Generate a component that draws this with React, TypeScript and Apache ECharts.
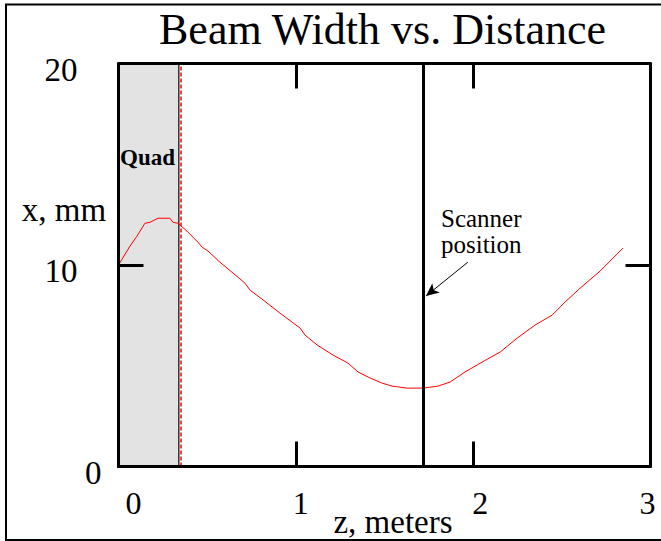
import React, { useEffect, useRef } from 'react';
import * as echarts from 'echarts';

// Beam width (x, mm) as a function of distance (z, meters)
const zMeters = [0, 0.065, 0.104, 0.149, 0.178, 0.223, 0.29, 0.307, 0.336, 0.386, 0.448, 0.471, 0.505, 0.572, 0.612, 0.713, 0.742, 0.809, 0.911, 1.024, 1.052, 1.12, 1.21, 1.294, 1.351, 1.419, 1.486, 1.543, 1.627, 1.717, 1.802, 1.87, 1.954, 2.05, 2.152, 2.248, 2.349, 2.445, 2.518, 2.603, 2.716, 2.845];
const widthMm = [10.0, 10.94, 11.43, 12.07, 12.12, 12.32, 12.32, 12.12, 12.07, 11.68, 11.13, 10.89, 10.69, 10.14, 9.85, 9.1, 8.75, 8.31, 7.61, 6.87, 6.52, 6.03, 5.53, 5.13, 4.69, 4.39, 4.14, 3.99, 3.89, 3.89, 3.99, 4.19, 4.69, 5.18, 5.68, 6.37, 7.02, 7.51, 8.16, 8.85, 9.7, 10.84];

const xTickLabels = ['0', '1', '2', '3'];
const yTickLabels = ['0', '10', '20'];

const quadStart = 0;
const quadEnd = 0.34;
const quadMarker = 0.351;
const scannerZ = 1.72;
const arrowFrom = [1.97, 10.14];
const arrowTo = [1.734, 8.46];

const FONT = "'Liberation Serif', 'Times New Roman', serif";

export default function App() {
  const ref = useRef<HTMLDivElement>(null);

  useEffect(() => {
    if (!ref.current) return;
    const chart = echarts.init(ref.current, null, { renderer: 'svg' });

    const xRich: Record<string, any> = {
      l0: { padding: [0, 0, 0, 30] },
      l1: { padding: [0, 0, 0, 10] },
      l2: { padding: [0, 0, 0, 14] },
      l3: { padding: [0, 6, 0, 0] },
    };
    const yRich: Record<string, any> = {
      l0: { padding: [12, 0, 0, 0] },
      l10: { padding: [12, 24, 0, 0] },
      l20: { padding: [12, 24, 0, 0] },
    };
    Object.values(xRich).forEach((s) => Object.assign(s, { fontFamily: FONT, fontSize: 32, color: '#000' }));
    Object.values(yRich).forEach((s) => Object.assign(s, { fontFamily: FONT, fontSize: 33, color: '#000' }));

    const data = zMeters.map((z, i) => [z, widthMm[i]]);

    const axisCommon = {
      z: 10,
      axisLine: { show: true, onZero: false, lineStyle: { color: '#000', width: 3 } },
      axisTick: { show: true, inside: true, length: 25, lineStyle: { color: '#000', width: 3 } },
      splitLine: { show: false },
    };

    chart.setOption({
      animation: false,
      backgroundColor: '#fff',
      title: {
        text: 'Beam Width vs. Distance',
        left: 154,
        top: 2,
        textStyle: { fontFamily: FONT, fontSize: 44, fontWeight: 'normal', color: '#000' },
      },
      grid: { left: 118.5, right: 10.5, top: 63.5, bottom: 74.5, containLabel: false },
      xAxis: [
        {
          type: 'value',
          position: 'bottom',
          min: 0,
          max: 3,
          interval: 1,
          ...axisCommon,
          axisLabel: {
            show: true,
            margin: 20,
            formatter: (v: number) => {
              const s = xTickLabels[Math.round(v)] ?? String(v);
              return `{l${s}|${s}}`;
            },
            rich: xRich,
          },
        },
        {
          type: 'value',
          position: 'top',
          min: 0,
          max: 3,
          interval: 1,
          ...axisCommon,
          axisLabel: { show: false },
        },
      ],
      yAxis: [
        {
          type: 'value',
          position: 'left',
          min: 0,
          max: 20,
          interval: 10,
          ...axisCommon,
          axisLabel: {
            show: true,
            margin: 17,
            align: 'right',
            formatter: (v: number) => {
              const s = yTickLabels[Math.round(v / 10)] ?? String(v);
              return `{l${s}|${s}}`;
            },
            rich: yRich,
          },
        },
        {
          type: 'value',
          position: 'right',
          min: 0,
          max: 20,
          interval: 10,
          ...axisCommon,
          axisLabel: { show: false },
        },
      ],
      graphic: [
        {
          type: 'rect',
          shape: { x: 6, y: 4.5, width: 700, height: 535.5 },
          style: { fill: 'none', stroke: '#000', lineWidth: 2 },
          silent: true,
          z: 100,
        },
        {
          type: 'text',
          x: 64,
          y: 210,
          style: { text: 'x, mm', fontFamily: FONT, fontSize: 33, fill: '#000', textAlign: 'center', textVerticalAlign: 'middle' },
        },
        {
          type: 'text',
          x: 393,
          y: 522,
          style: { text: 'z, meters', fontFamily: FONT, fontSize: 33, fill: '#000', textAlign: 'center', textVerticalAlign: 'middle' },
        },
        {
          type: 'text',
          x: 120,
          y: 157,
          z: 50,
          style: { text: 'Quad', fontFamily: FONT, fontSize: 23, fontWeight: 'bold', fill: '#000', textAlign: 'left', textVerticalAlign: 'middle' },
        },
        {
          type: 'text',
          x: 441,
          y: 218,
          z: 50,
          style: { text: 'Scanner', fontFamily: FONT, fontSize: 25, fill: '#000', textAlign: 'left', textVerticalAlign: 'middle' },
        },
        {
          type: 'text',
          x: 441,
          y: 244,
          z: 50,
          style: { text: 'position', fontFamily: FONT, fontSize: 25, fill: '#000', textAlign: 'left', textVerticalAlign: 'middle' },
        },
      ],
      series: [
        {
          type: 'line',
          data,
          showSymbol: false,
          symbol: 'none',
          silent: true,
          lineStyle: { color: '#ff0000', width: 1 },
          markArea: {
            silent: true,
            itemStyle: { color: '#e3e3e3', borderColor: '#333', borderWidth: 1.5 },
            data: [[{ xAxis: quadStart }, { xAxis: quadEnd }]],
          },
          markLine: {
            silent: true,
            symbol: ['none', 'none'],
            label: { show: false },
            emphasis: { disabled: true },
            data: [
              { xAxis: quadMarker, lineStyle: { color: '#ff0000', width: 1.5, type: [4, 2] } },
              { xAxis: scannerZ, lineStyle: { color: '#000', width: 3, type: 'solid' } },
              [
                { coord: arrowFrom, symbol: 'none', lineStyle: { color: '#000', width: 1, type: 'solid' } },
                { coord: arrowTo, symbol: 'arrow', symbolSize: [9, 13] },
              ],
            ],
          },
        },
      ],
    });

    return () => chart.dispose();
  }, []);

  return <div ref={ref} style={{ position: 'fixed', left: 0, top: 0, width: 661, height: 541 }} />;
}
